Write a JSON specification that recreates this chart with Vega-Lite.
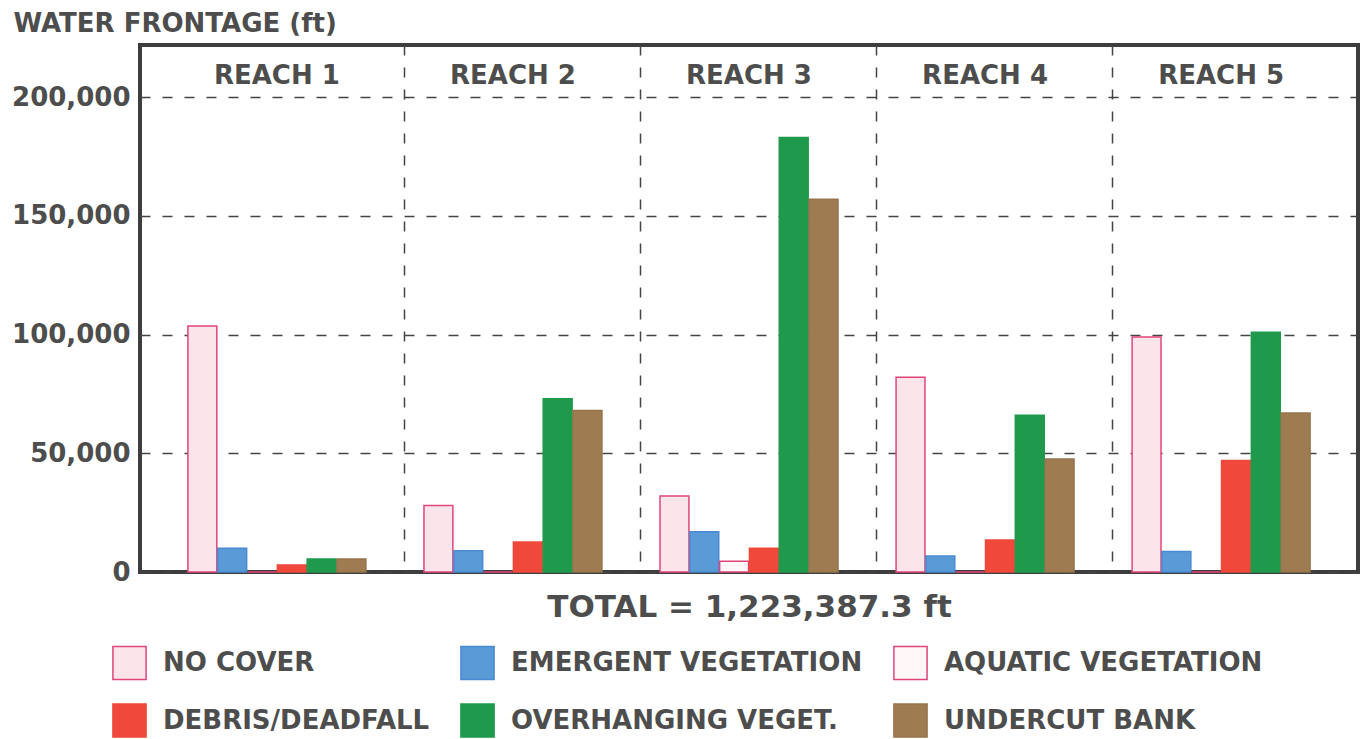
{
  "$schema": "https://vega.github.io/schema/vega-lite/v6.json",
  "width": 1218,
  "height": 527,
  "autosize": "none",
  "padding": {"left": 140, "top": 45, "right": 4, "bottom": 167},
  "background": "white",
  "config": {
    "font": "DejaVu Sans",
    "view": {"stroke": "#3d3d3d", "strokeWidth": 4},
    "axis": {"labelColor": "#4d4d4d", "titleColor": "#4d4d4d"},
    "legend": {"labelColor": "#4d4d4d"}
  },
  "data": {
    "values": [
      {"reach": "REACH 1", "category": "NO COVER", "value": 103600},
      {"reach": "REACH 1", "category": "EMERGENT VEGETATION", "value": 10000},
      {"reach": "REACH 1", "category": "AQUATIC VEGETATION", "value": 0},
      {"reach": "REACH 1", "category": "DEBRIS/DEADFALL", "value": 3000},
      {"reach": "REACH 1", "category": "OVERHANGING VEGET.", "value": 5500},
      {"reach": "REACH 1", "category": "UNDERCUT BANK", "value": 5500},
      {"reach": "REACH 2", "category": "NO COVER", "value": 28000},
      {"reach": "REACH 2", "category": "EMERGENT VEGETATION", "value": 9000},
      {"reach": "REACH 2", "category": "AQUATIC VEGETATION", "value": 0},
      {"reach": "REACH 2", "category": "DEBRIS/DEADFALL", "value": 12600},
      {"reach": "REACH 2", "category": "OVERHANGING VEGET.", "value": 73000},
      {"reach": "REACH 2", "category": "UNDERCUT BANK", "value": 68000},
      {"reach": "REACH 3", "category": "NO COVER", "value": 32000},
      {"reach": "REACH 3", "category": "EMERGENT VEGETATION", "value": 17000},
      {"reach": "REACH 3", "category": "AQUATIC VEGETATION", "value": 4500},
      {"reach": "REACH 3", "category": "DEBRIS/DEADFALL", "value": 10000},
      {"reach": "REACH 3", "category": "OVERHANGING VEGET.", "value": 183000},
      {"reach": "REACH 3", "category": "UNDERCUT BANK", "value": 157000},
      {"reach": "REACH 4", "category": "NO COVER", "value": 82000},
      {"reach": "REACH 4", "category": "EMERGENT VEGETATION", "value": 6700},
      {"reach": "REACH 4", "category": "AQUATIC VEGETATION", "value": 0},
      {"reach": "REACH 4", "category": "DEBRIS/DEADFALL", "value": 13500},
      {"reach": "REACH 4", "category": "OVERHANGING VEGET.", "value": 66000},
      {"reach": "REACH 4", "category": "UNDERCUT BANK", "value": 47600},
      {"reach": "REACH 5", "category": "NO COVER", "value": 99000},
      {"reach": "REACH 5", "category": "EMERGENT VEGETATION", "value": 8600},
      {"reach": "REACH 5", "category": "AQUATIC VEGETATION", "value": 0},
      {"reach": "REACH 5", "category": "DEBRIS/DEADFALL", "value": 47000},
      {"reach": "REACH 5", "category": "OVERHANGING VEGET.", "value": 101000},
      {"reach": "REACH 5", "category": "UNDERCUT BANK", "value": 67000}
    ]
  },
  "resolve": {"axis": {"x": "independent"}},
  "layer": [
    {
      "mark": {"type": "bar", "strokeWidth": 1.5},
      "encoding": {
        "x": {
          "field": "reach",
          "type": "nominal",
          "sort": ["REACH 1", "REACH 2", "REACH 3", "REACH 4", "REACH 5"],
          "scale": {"paddingInner": 0.246, "paddingOuter": 0.203},
          "axis": {
            "orient": "bottom",
            "values": ["REACH 2", "REACH 3", "REACH 4", "REACH 5"],
            "labels": false,
            "ticks": false,
            "domain": false,
            "grid": true,
            "bandPosition": -0.11,
            "gridDash": [10, 12],
            "gridColor": "#444444",
            "gridWidth": 1.5,
            "title": "TOTAL = 1,223,387.3 ft",
            "titleFontSize": 31,
            "titleFontWeight": "bold",
            "titlePadding": 20
          }
        },
        "xOffset": {
          "field": "category",
          "type": "nominal",
          "sort": ["NO COVER", "EMERGENT VEGETATION", "AQUATIC VEGETATION", "DEBRIS/DEADFALL", "OVERHANGING VEGET.", "UNDERCUT BANK"],
          "scale": {"paddingInner": 0.03, "paddingOuter": 0}
        },
        "y": {
          "field": "value",
          "type": "quantitative",
          "scale": {"domain": [0, 222000], "nice": false},
          "axis": {
            "values": [0, 50000, 100000, 150000, 200000],
            "format": ",d",
            "labelFontSize": 26,
            "labelFontWeight": "bold",
            "labelPadding": 10,
            "ticks": false,
            "domain": false,
            "grid": true,
            "gridDash": [10, 12],
            "gridColor": "#444444",
            "gridWidth": 1.5,
            "title": "WATER FRONTAGE (ft)",
            "titleAngle": 0,
            "titleAlign": "left",
            "titleBaseline": "alphabetic",
            "titleX": -127,
            "titleY": -14,
            "titleFontSize": 26,
            "titleFontWeight": "bold"
          }
        },
        "color": {
          "field": "category",
          "type": "nominal",
          "sort": ["NO COVER", "EMERGENT VEGETATION", "AQUATIC VEGETATION", "DEBRIS/DEADFALL", "OVERHANGING VEGET.", "UNDERCUT BANK"],
          "scale": {
            "domain": ["NO COVER", "EMERGENT VEGETATION", "AQUATIC VEGETATION", "DEBRIS/DEADFALL", "OVERHANGING VEGET.", "UNDERCUT BANK"],
            "range": ["#fbe4ea", "#5a9ad6", "#fff6f8", "#f0483a", "#1f9a4c", "#9e7b50"]
          },
          "legend": {
            "orient": "none",
            "legendX": -28,
            "legendY": 600,
            "direction": "horizontal",
            "columns": 3,
            "title": null,
            "symbolType": "square",
            "symbolSize": 1100,
            "symbolStrokeWidth": 1.5,
            "labelFontSize": 26,
            "labelFontWeight": "bold",
            "labelOffset": 16,
            "labelLimit": 600,
            "columnPadding": 27,
            "rowPadding": 17,
            "padding": 0
          }
        },
        "stroke": {
          "field": "category",
          "type": "nominal",
          "sort": ["NO COVER", "EMERGENT VEGETATION", "AQUATIC VEGETATION", "DEBRIS/DEADFALL", "OVERHANGING VEGET.", "UNDERCUT BANK"],
          "scale": {
            "domain": ["NO COVER", "EMERGENT VEGETATION", "AQUATIC VEGETATION", "DEBRIS/DEADFALL", "OVERHANGING VEGET.", "UNDERCUT BANK"],
            "range": ["#e0457b", "#4a8ad0", "#e0457b", "#ee4a3c", "#1f9a4c", "#96754c"]
          },
          "legend": {
            "orient": "none",
            "legendX": -28,
            "legendY": 600,
            "direction": "horizontal",
            "columns": 3,
            "title": null,
            "symbolType": "square",
            "symbolSize": 1100,
            "symbolStrokeWidth": 1.5,
            "labelFontSize": 26,
            "labelFontWeight": "bold",
            "labelOffset": 16,
            "labelLimit": 600,
            "columnPadding": 27,
            "rowPadding": 17,
            "padding": 0
          }
        }
      }
    },
    {
      "mark": {"type": "bar", "opacity": 0},
      "encoding": {
        "x": {
          "field": "reach",
          "type": "nominal",
          "sort": ["REACH 1", "REACH 2", "REACH 3", "REACH 4", "REACH 5"],
          "axis": {
            "orient": "top",
            "title": null,
            "ticks": false,
            "domain": false,
            "grid": false,
            "labelAngle": 0,
            "labelFontSize": 26,
            "labelFontWeight": "bold",
            "labelBaseline": "middle",
            "labelPadding": -30
          }
        }
      }
    }
  ]
}
